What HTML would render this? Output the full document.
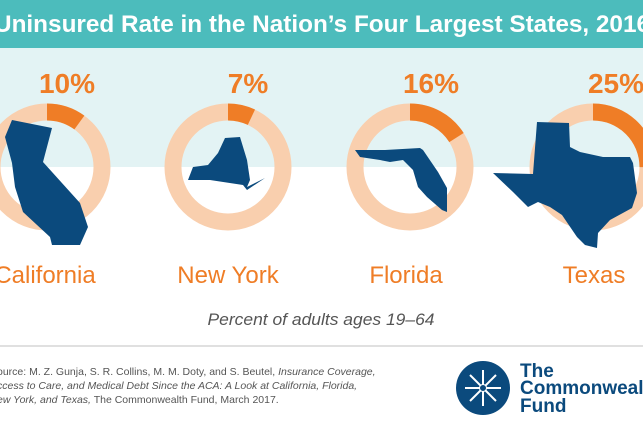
<!DOCTYPE html>
<html><head><meta charset="utf-8"><style>
html,body{margin:0;padding:0;width:643px;height:429px;overflow:hidden;background:#fff}
svg{display:block}
text{font-family:"Liberation Sans",sans-serif}
</style></head><body>
<svg width="643" height="429" viewBox="0 0 643 429" xmlns="http://www.w3.org/2000/svg">
<rect x="0" y="0" width="643" height="48" fill="#4cbcbc"/>
<rect x="0" y="48" width="643" height="119" fill="#e3f3f4"/>
<text x="-6" y="32" fill="#fff" font-size="24" font-weight="bold" textLength="656" lengthAdjust="spacingAndGlyphs">Uninsured Rate in the Nation’s Four Largest States, 2016</text>
<g fill="#ef7d26" font-size="28" font-weight="bold" text-anchor="middle">
<text x="67" y="93">10%</text><text x="248" y="93">7%</text><text x="431" y="93">16%</text><text x="616" y="93">25%</text>
</g>
<g fill="none" stroke-width="17">
<g transform="translate(47,167) rotate(-90)"><circle r="55" stroke="#f9cfae"/><circle r="55" stroke="#ef7d26" stroke-dasharray="34.6 400"/></g>
<g transform="translate(228,167) rotate(-90)"><circle r="55" stroke="#f9cfae"/><circle r="55" stroke="#ef7d26" stroke-dasharray="24.2 400"/></g>
<g transform="translate(410,167) rotate(-90)"><circle r="55" stroke="#f9cfae"/><circle r="55" stroke="#ef7d26" stroke-dasharray="55.3 400"/></g>
<g transform="translate(593,167) rotate(-90)"><circle r="55" stroke="#f9cfae"/><circle r="55" stroke="#ef7d26" stroke-dasharray="86.4 400"/></g>
</g>
<g fill="#0b4a7d">
<polygon points="12,120 52,128 43,162 80,203 88,227 80,245 52,245 50,237 23,212 15,187 12,163 5,137"/>
<polygon points="188,180 193,167 208,165 218,153 225,138 240,137 247,160 250,180 247,187 265,178 247,190 243,185 210,180"/>
<polygon points="355,150 385,150 420,148 423,150 438,172 447,188 447,212 442,210 427,197 418,187 413,170 403,160 390,162 380,160 360,157"/>
<polygon points="537,122 569,123 570,147 580,152 603,157 630,157 633,163 637,193 632,208 610,220 598,233 597,248 585,245 577,237 562,215 550,207 538,202 528,207 513,192 493,173 533,174"/>
</g>
<g fill="#ef7d26" font-size="24" text-anchor="middle">
<text x="45" y="283">California</text><text x="228" y="283">New York</text><text x="406" y="283">Florida</text><text x="594" y="283">Texas</text>
</g>
<text x="321" y="325" text-anchor="middle" fill="#555" font-size="17" font-style="italic" textLength="227" lengthAdjust="spacingAndGlyphs">Percent of adults ages 19–64</text>
<rect x="0" y="345" width="643" height="2" fill="#e0e0e0"/>
<g fill="#555" font-size="10.5">
<text x="-3" y="375">ource: M. Z. Gunja, S. R. Collins, M. M. Doty, and S. Beutel, <tspan font-style="italic">Insurance Coverage,</tspan></text>
<text x="-3" y="389" font-style="italic">ccess to Care, and Medical Debt Since the ACA: A Look at California, Florida,</text>
<text x="-3" y="403"><tspan font-style="italic">ew York, and Texas,</tspan> The Commonwealth Fund, March 2017.</text>
</g>
<circle cx="483" cy="388" r="27" fill="#0b4a7d"/>
<g stroke="#fff" stroke-width="2">
<line x1="465" y1="388" x2="501" y2="388"/><line x1="483" y1="370" x2="483" y2="406"/>
<line x1="470" y1="375" x2="496" y2="401"/><line x1="496" y1="375" x2="470" y2="401"/>
</g>
<circle cx="483" cy="388" r="3.5" fill="#0b4a7d" stroke="#fff"/>
<g fill="#0b4a7d" font-size="19" font-weight="bold" style="font-family:'Liberation Serif',serif">
<text x="520" y="377">The</text><text x="520" y="394">Commonwealth</text><text x="520" y="412">Fund</text>
</g>
</svg>
</body></html>
